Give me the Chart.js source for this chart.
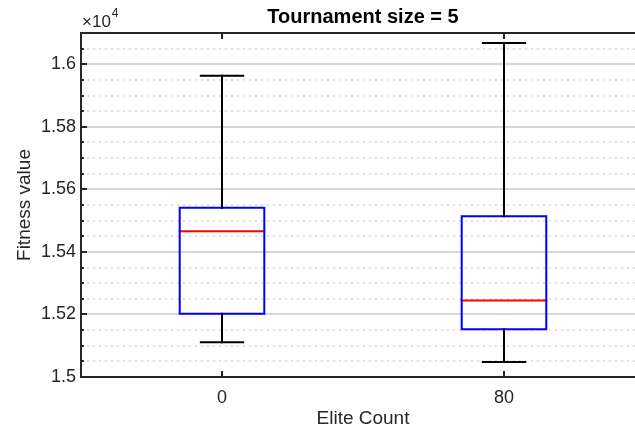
<!DOCTYPE html>
<html>
<head>
<meta charset="utf-8">
<title>Tournament size = 5</title>
<script src="https://cdn.jsdelivr.net/npm/chart.js@4.4.0/dist/chart.umd.min.js"></script>
<style>
    html, body { margin: 0; padding: 0; background: #ffffff; overflow: hidden; }
    #box-chart { display: block; }
</style>
</head>
<body>
<canvas id="box-chart" width="650" height="430"></canvas>
<script>
// Box plot data
const categories = ['0', '80'];
const positions = [1, 2];
const whiskerLow = [15111, 15048];
const q1 = [15202, 15153];
const median = [15466, 15245];
const q3 = [15541, 15514];
const whiskerHigh = [15963, 16068];

// Axis ticks
const yMajorTicks = [15000, 15200, 15400, 15600, 15800, 16000];
const yMinorTicks = [15050, 15100, 15150, 15250, 15300, 15350, 15450, 15500, 15550,
                     15650, 15700, 15750, 15850, 15900, 15950, 16050];
const yMin = 15000;
const yMax = 16100;

const FONT = '"Liberation Sans", Arial, Helvetica, sans-serif';
const AXIS_COLOR = '#262626';
const BOX_HALF = 0.15;
const CAP_HALF = 0.075;

// Build line datasets for each box
function buildDatasets() {
    const sets = [];
    positions.forEach((p, i) => {
        // whiskers
        sets.push({ data: [{ x: p, y: q3[i] }, { x: p, y: whiskerHigh[i] }], borderColor: '#000000', borderWidth: 2 });
        sets.push({ data: [{ x: p, y: q1[i] }, { x: p, y: whiskerLow[i] }], borderColor: '#000000', borderWidth: 2 });
        // caps
        sets.push({ data: [{ x: p - CAP_HALF, y: whiskerHigh[i] }, { x: p + CAP_HALF, y: whiskerHigh[i] }], borderColor: '#000000', borderWidth: 2 });
        sets.push({ data: [{ x: p - CAP_HALF, y: whiskerLow[i] }, { x: p + CAP_HALF, y: whiskerLow[i] }], borderColor: '#000000', borderWidth: 2 });
        // box
        sets.push({
            data: [
                { x: p - BOX_HALF, y: q1[i] }, { x: p + BOX_HALF, y: q1[i] },
                { x: p + BOX_HALF, y: q3[i] }, { x: p - BOX_HALF, y: q3[i] },
                { x: p - BOX_HALF, y: q1[i] }
            ],
            borderColor: '#0000ff', borderWidth: 2
        });
        // median
        sets.push({ data: [{ x: p - BOX_HALF, y: median[i] }, { x: p + BOX_HALF, y: median[i] }], borderColor: '#ff0000', borderWidth: 2 });
    });
    sets.forEach(s => {
        s.pointRadius = 0;
        s.fill = false;
        s.tension = 0;
        s.borderCapStyle = 'square';
    });
    return sets;
}

// Inward tick marks and top border (MATLAB style box)
const axesBoxPlugin = {
    id: 'axesBox',
    afterDatasetsDraw(chart) {
        const { ctx, chartArea, scales } = chart;
        const y = scales.y;
        const x = scales.x;
        ctx.save();
        ctx.strokeStyle = AXIS_COLOR;
        ctx.lineWidth = 2;
        ctx.beginPath();
        // top border
        ctx.moveTo(chartArea.left - 1, chartArea.top);
        ctx.lineTo(chartArea.right, chartArea.top);
        // left ticks
        yMajorTicks.forEach(v => {
            const py = Math.round(y.getPixelForValue(v));
            ctx.moveTo(chartArea.left, py);
            ctx.lineTo(chartArea.left + 6, py);
        });
        yMinorTicks.forEach(v => {
            const py = Math.round(y.getPixelForValue(v));
            ctx.moveTo(chartArea.left, py);
            ctx.lineTo(chartArea.left + 3, py);
        });
        // bottom and top ticks
        positions.forEach(v => {
            const px = Math.round(x.getPixelForValue(v));
            ctx.moveTo(px, chartArea.bottom);
            ctx.lineTo(px, chartArea.bottom - 6);
            ctx.moveTo(px, chartArea.top);
            ctx.lineTo(px, chartArea.top + 6);
        });
        ctx.stroke();
        ctx.restore();
    }
};

function initializeBoxChart() {
    const canvas = document.getElementById('box-chart');
    if (!canvas || typeof Chart === 'undefined') return;

    new Chart(canvas, {
        type: 'line',
        data: { datasets: buildDatasets() },
        plugins: [axesBoxPlugin],
        options: {
            responsive: false,
            animation: false,
            layout: { padding: { top: 0, left: 0, right: 5, bottom: 0 } },
            plugins: {
                legend: { display: false },
                tooltip: { enabled: false },
                title: {
                    display: true,
                    text: 'Tournament size = 5',
                    fullSize: false,
                    color: '#000000',
                    font: { family: FONT, size: 20, weight: 'bold' },
                    padding: { top: 5, bottom: 4 }
                }
            },
            scales: {
                x: {
                    type: 'linear',
                    position: 'bottom',
                    min: 0.5,
                    max: 2.5,
                    afterBuildTicks: s => { s.ticks = positions.map(v => ({ value: v })); },
                    afterFit: s => { s.height = 53; },
                    grid: { display: false, drawTicks: false },
                    border: { color: AXIS_COLOR, width: 2 },
                    ticks: {
                        color: AXIS_COLOR,
                        padding: 10,
                        font: { family: FONT, size: 18 },
                        callback: v => categories[positions.indexOf(v)]
                    },
                    title: {
                        display: true,
                        text: 'Elite Count',
                        color: AXIS_COLOR,
                        font: { family: FONT, size: 19 },
                        padding: { top: 0, bottom: 0 }
                    }
                },
                y: {
                    type: 'linear',
                    position: 'left',
                    min: yMin,
                    max: yMax,
                    afterBuildTicks: s => { s.ticks = yMajorTicks.map(v => ({ value: v })); },
                    afterFit: s => { s.width = 81; },
                    grid: { color: '#d6d6d6', lineWidth: 2, drawTicks: false },
                    border: { color: AXIS_COLOR, width: 2 },
                    ticks: {
                        color: AXIS_COLOR,
                        padding: 5,
                        font: { family: FONT, size: 18 },
                        callback: v => String(+(v / 1e4).toFixed(2))
                    },
                    title: {
                        display: true,
                        text: 'Fitness value',
                        color: AXIS_COLOR,
                        font: { family: FONT, size: 19 },
                        padding: { top: 13, bottom: 0 }
                    }
                },
                yMinor: {
                    type: 'linear',
                    position: 'left',
                    min: yMin,
                    max: yMax,
                    afterBuildTicks: s => { s.ticks = yMinorTicks.map(v => ({ value: v })); },
                    afterFit: s => { s.width = 0; },
                    grid: { color: '#e0e0e0', lineWidth: 2, drawTicks: false, z: -1 },
                    border: { display: false, dash: [2, 4] },
                    ticks: { display: false }
                }
            }
        }
    });

    // exponent label above the y axis
    const ctx = canvas.getContext('2d');
    ctx.save();
    ctx.fillStyle = AXIS_COLOR;
    ctx.font = '17px ' + FONT;
    ctx.textBaseline = 'alphabetic';
    ctx.fillText('\u00d710', 82, 27);
    const w = ctx.measureText('\u00d710').width;
    ctx.font = '12px ' + FONT;
    ctx.fillText('4', 82 + w + 1, 17);
    ctx.restore();
}

document.addEventListener('DOMContentLoaded', initializeBoxChart);
</script>
</body>
</html>
